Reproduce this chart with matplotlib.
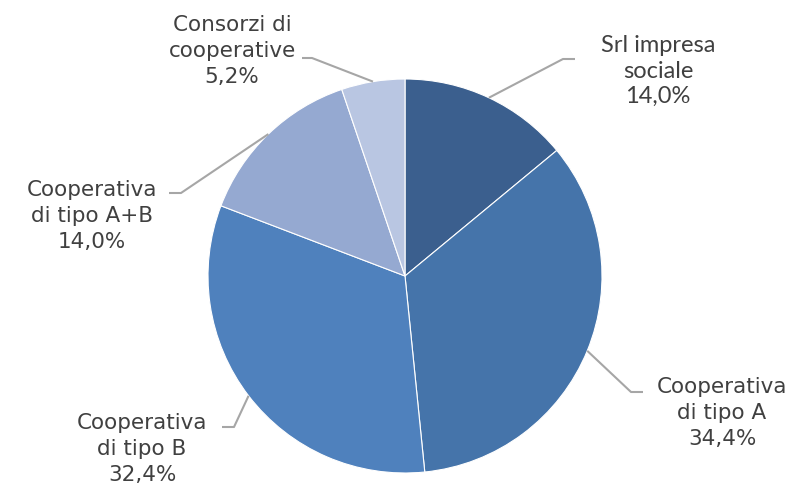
import matplotlib
matplotlib.use("Agg")
import matplotlib.pyplot as plt
import numpy as np

categories = ["Srl impresa\nsociale", "Cooperativa\ndi tipo A", "Cooperativa\ndi tipo B",
              "Cooperativa\ndi tipo A+B", "Consorzi di\ncooperative"]
values = [14.0, 34.4, 32.4, 14.0, 5.2]
colors = ["#3b5f8e", "#4574aa", "#4f81bd", "#95a9d1", "#b9c6e2"]

W, H = 798, 491
fig = plt.figure(figsize=(W / 100, H / 100), dpi=100)
ax = fig.add_axes([0, 0, 1, 1])
ax.set_xlim(0, W)
ax.set_ylim(0, H)
ax.set_aspect("equal")
ax.axis("off")

cx, cy, R = 405, H - 276, 197
wedges, _ = ax.pie(values, colors=colors, startangle=90, counterclock=False,
                   center=(cx, cy), radius=R, frame=True,
                   wedgeprops=dict(edgecolor="white", linewidth=0.8))
ax.set_xlim(0, W)
ax.set_ylim(0, H)
ax.axis("off")

# label text centers (pixel coords, y from top), elbow points
label_pos = [(658, 71), (722, 413), (142, 449), (92, 216), (232, 51)]
elbows = [((563, 59), (575, 59)), ((631, 392), (643, 392)), ((234, 427), (222, 427)),
          ((181, 193), (169, 193)), ((312, 58), (302, 58))]
fonts = ["Lato", "DejaVu Sans", "DejaVu Sans", "DejaVu Sans", "DejaVu Sans"]
sizes = [17, 15.5, 15.5, 15.5, 15.5]
spacing = [1.27, 1.36, 1.36, 1.36, 1.36]

for w, cat, v, (lx, ly), (e1, e2), fnt, fs, ls in zip(wedges, categories, values, label_pos,
                                                       elbows, fonts, sizes, spacing):
    ang = np.deg2rad((w.theta1 + w.theta2) / 2)
    sx, sy = cx + R * np.cos(ang), cy + R * np.sin(ang)
    ax.plot([sx, e1[0], e2[0]], [sy, H - e1[1], H - e2[1]], color="#a6a6a6", lw=1.5,
            solid_capstyle="butt", zorder=1)
    txt = f"{cat}\n{v:.1f}%".replace(".", ",")
    ax.text(lx, H - ly, txt, ha="center", va="center", fontsize=fs, family=fnt,
            color="#404040", linespacing=ls)

fig.savefig("out.png", dpi=100)
